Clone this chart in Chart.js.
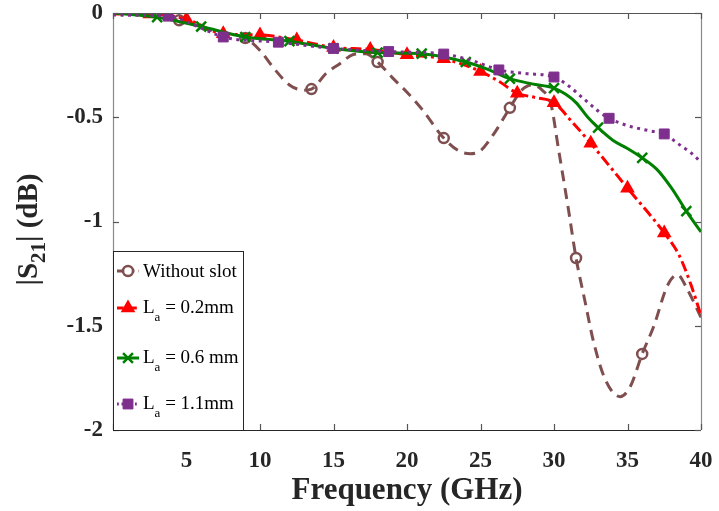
<!DOCTYPE html>
<html>
<head>
<meta charset="utf-8">
<script src="https://cdn.jsdelivr.net/npm/chart.js@4.4.1/dist/chart.umd.min.js"></script>
<style>
  html, body { margin: 0; padding: 0; background: #fff; }
  #wrap { width: 719px; height: 511px; position: relative; }
</style>
</head>
<body>
<div id="wrap"><canvas id="s21Chart" width="719" height="511"></canvas></div>
<script>
// values (GHz, dB)
const freqNoSlot = [0, 2, 4.5, 7, 9, 10, 11, 12, 13, 13.5, 14.5, 15.5, 16.3, 17.2, 18, 19, 20, 21, 22.5, 23.5, 24.3, 25, 26, 27, 27.8, 28.5, 29.2, 29.8, 30.3, 31, 31.5, 32.1, 32.7, 33.5, 34.5, 35.2, 36, 36.8, 37.7, 38.4, 39.1, 40];
const s21NoSlot = [0, -0.005, -0.035, -0.09, -0.12, -0.18, -0.27, -0.345, -0.37, -0.365, -0.29, -0.24, -0.2, -0.195, -0.235, -0.31, -0.38, -0.46, -0.6, -0.66, -0.675, -0.66, -0.57, -0.455, -0.37, -0.345, -0.37, -0.44, -0.65, -0.95, -1.175, -1.38, -1.58, -1.76, -1.84, -1.79, -1.635, -1.5, -1.31, -1.255, -1.33, -1.46];
const markNoSlot = [4.5, 9, 13.5, 18, 22.5, 27, 31.5, 36];

const freqLa02 = [0, 2.5, 5, 7.5, 10, 12.5, 15, 17.5, 20, 22.5, 25, 26.3, 27.5, 28.7, 30, 31.2, 32.5, 35, 37.5, 38.5, 39.3, 40];
const s21La02 = [-0.005, -0.005, -0.03, -0.1, -0.105, -0.13, -0.165, -0.175, -0.2, -0.22, -0.28, -0.33, -0.385, -0.405, -0.43, -0.52, -0.625, -0.84, -1.055, -1.16, -1.3, -1.45];
const markLa02 = [2.5, 5, 7.5, 10, 12.5, 15, 17.5, 20, 22.5, 25, 27.5, 30, 32.5, 35, 37.5];

const freqLa06 = [0, 3, 6, 9, 12, 15, 18, 21, 24, 25.5, 27, 28.5, 30, 30.8, 31.5, 32.3, 33, 34, 35, 36, 37, 38, 39, 40];
const s21La06 = [0, -0.02, -0.065, -0.115, -0.135, -0.17, -0.19, -0.195, -0.235, -0.27, -0.315, -0.34, -0.36, -0.39, -0.43, -0.5, -0.55, -0.61, -0.65, -0.695, -0.75, -0.84, -0.95, -1.05];
const markLa06 = [3, 6, 9, 12, 15, 18, 21, 24, 27, 30, 33, 36, 39];

const freqLa11 = [0, 3.75, 5.6, 7.5, 11.25, 15, 18.75, 22.5, 24.5, 26.25, 28, 30, 31, 32, 33, 33.75, 35, 36.5, 37.5, 38.5, 39.3, 40];
const s21La11 = [-0.01, -0.015, -0.06, -0.115, -0.14, -0.17, -0.185, -0.197, -0.23, -0.273, -0.29, -0.307, -0.35, -0.41, -0.47, -0.505, -0.54, -0.565, -0.58, -0.63, -0.67, -0.715];
const markLa11 = [3.75, 7.5, 11.25, 15, 18.75, 22.5, 26.25, 30, 33.75, 37.5];

const xTicks = [0, 5, 10, 15, 20, 25, 30, 35, 40];
const yTicks = [0, -0.5, -1, -1.5, -2];
const seriesLabels = ['Without slot', 'L_a = 0.2mm', 'L_a = 0.6 mm', 'L_a = 1.1mm'];

const SERIF = '"Liberation Serif", "Times New Roman", serif';
const legendRows = [271, 308, 358, 404];

function pts(fs, vs) { return fs.map((f, i) => ({ x: f, y: vs[i] })); }
function radii(fs, marks, r) { return fs.map(f => marks.includes(f) ? r : 0); }

const datasets = [
  {
    label: seriesLabels[0], data: pts(freqNoSlot, s21NoSlot), order: 4,
    borderColor: '#7f4f4f', borderWidth: 3, borderDash: [11, 7],
    pointStyle: 'circle', pointRadius: radii(freqNoSlot, markNoSlot, 5),
    pointBorderWidth: 2.5, pointBackgroundColor: 'rgba(255,255,255,0)', pointBorderColor: '#7f4f4f',
    legendRadius: 5
  },
  {
    label: seriesLabels[1], data: pts(freqLa02, s21La02), order: 3,
    borderColor: '#ff0000', borderWidth: 3, borderDash: [11, 4, 3, 4],
    pointStyle: 'triangle', pointRadius: radii(freqLa02, markLa02, 6.5),
    pointBorderWidth: 2, pointBackgroundColor: '#ff0000', pointBorderColor: '#ff0000',
    legendRadius: 6.5
  },
  {
    label: seriesLabels[2], data: pts(freqLa06, s21La06), order: 2,
    borderColor: '#008000', borderWidth: 3, borderDash: [],
    pointStyle: 'crossRot', pointRadius: radii(freqLa06, markLa06, 7),
    pointBorderWidth: 2.5, pointBackgroundColor: '#008000', pointBorderColor: '#008000',
    legendRadius: 7
  },
  {
    label: seriesLabels[3], data: pts(freqLa11, s21La11), order: 1,
    borderColor: '#7e2f8e', borderWidth: 3, borderDash: [3, 4.5],
    pointStyle: 'rect', pointRadius: radii(freqLa11, markLa11, 7),
    pointBorderWidth: 1, pointBackgroundColor: '#7e2f8e', pointBorderColor: '#7e2f8e',
    legendRadius: 7
  }
];

// box, inward ticks, axis titles and the legend (MATLAB look)
const framePlugin = {
  id: 'frame',
  afterDraw(chart) {
    const { ctx, chartArea: a, scales } = chart;
    const sx = scales.x, sy = scales.y;
    ctx.save();
    ctx.lineWidth = 1.2;
    ctx.setLineDash([]);
    // axes
    ctx.strokeStyle = '#262626';
    ctx.beginPath(); ctx.moveTo(a.left, a.bottom + 0.5); ctx.lineTo(a.right, a.bottom + 0.5); ctx.stroke();
    ctx.strokeStyle = '#555';
    ctx.beginPath(); ctx.moveTo(a.left, a.top + 0.5); ctx.lineTo(a.right, a.top + 0.5); ctx.stroke();
    ctx.strokeStyle = '#8a8a8a';
    ctx.beginPath(); ctx.moveTo(a.left + 0.5, a.top); ctx.lineTo(a.left + 0.5, a.bottom); ctx.stroke();
    ctx.beginPath(); ctx.moveTo(a.right + 0.5, a.top); ctx.lineTo(a.right + 0.5, a.bottom); ctx.stroke();
    // ticks
    ctx.strokeStyle = '#555';
    xTicks.forEach(v => {
      const px = Math.round(sx.getPixelForValue(v)) + 0.5;
      ctx.beginPath(); ctx.moveTo(px, a.bottom); ctx.lineTo(px, a.bottom - 6); ctx.stroke();
      ctx.beginPath(); ctx.moveTo(px, a.top); ctx.lineTo(px, a.top + 6); ctx.stroke();
    });
    yTicks.forEach(v => {
      const py = Math.round(sy.getPixelForValue(v)) + 0.5;
      ctx.beginPath(); ctx.moveTo(a.left, py); ctx.lineTo(a.left + 6, py); ctx.stroke();
      ctx.beginPath(); ctx.moveTo(a.right, py); ctx.lineTo(a.right - 6, py); ctx.stroke();
    });

    // x title
    ctx.fillStyle = '#262626';
    ctx.font = 'bold 31px ' + SERIF;
    ctx.textAlign = 'center';
    ctx.textBaseline = 'alphabetic';
    ctx.fillText('Frequency (GHz)', (a.left + a.right) / 2, 499);

    // y title with subscript
    ctx.save();
    ctx.translate(37, (a.top + a.bottom) / 2 + 8);
    ctx.rotate(-Math.PI / 2);
    const big = 'bold 29px ' + SERIF, small = 'bold 21px ' + SERIF;
    const parts = [['|S', big, 0], ['21', small, 8], ['| (dB)', big, 0]];
    let total = 0;
    parts.forEach(p => { ctx.font = p[1]; total += ctx.measureText(p[0]).width; });
    let cx = -total / 2;
    ctx.textAlign = 'left';
    parts.forEach(p => { ctx.font = p[1]; ctx.fillText(p[0], cx, p[2]); cx += ctx.measureText(p[0]).width; });
    ctx.restore();

    // legend
    const lx0 = a.left, ly0 = 251, lx1 = 243, ly1 = a.bottom;
    ctx.fillStyle = '#fff';
    ctx.fillRect(lx0, ly0, lx1 - lx0, ly1 - ly0);
    ctx.strokeStyle = '#262626';
    ctx.lineWidth = 1;
    ctx.strokeRect(lx0 + 0.5, ly0 + 0.5, lx1 - lx0, ly1 - ly0);
    chart.data.datasets.forEach((ds, i) => {
      const y = legendRows[i];
      ctx.save();
      ctx.strokeStyle = ds.borderColor;
      ctx.lineWidth = ds.borderWidth;
      ctx.setLineDash(ds.borderDash.length ? ds.borderDash.map(d => d * 0.6) : []);
      ctx.beginPath(); ctx.moveTo(117, y); ctx.lineTo(139, y); ctx.stroke();
      ctx.setLineDash([]);
      ctx.fillStyle = ds.pointBackgroundColor;
      ctx.strokeStyle = ds.pointBorderColor;
      ctx.lineWidth = ds.pointBorderWidth;
      if (ds.pointStyle === 'circle') { ctx.fillStyle = '#fff'; }
      Chart.helpers.drawPoint(ctx, { pointStyle: ds.pointStyle, radius: ds.legendRadius, borderWidth: ds.pointBorderWidth, rotation: 0 }, 128, y);
      ctx.restore();
      // label, "_a" becomes a subscript
      ctx.fillStyle = '#000';
      ctx.textAlign = 'left';
      const lab = ds.label;
      const k = lab.indexOf('_');
      let tx = 143;
      if (k < 0) {
        ctx.font = '19px ' + SERIF;
        ctx.fillText(lab, tx, y + 6);
      } else {
        ctx.font = '19px ' + SERIF;
        const head = lab.slice(0, k);
        ctx.fillText(head, tx, y + 5); tx += ctx.measureText(head).width;
        ctx.font = '13px ' + SERIF;
        const sub = lab.charAt(k + 1);
        ctx.fillText(sub, tx, y + 13); tx += ctx.measureText(sub).width;
        ctx.font = '19px ' + SERIF;
        ctx.fillText(lab.slice(k + 2), tx, y + 5);
      }
    });
    ctx.restore();
  }
};

new Chart(document.getElementById('s21Chart'), {
  type: 'line',
  data: { datasets: datasets },
  options: {
    responsive: false,
    animation: false,
    layout: { padding: { top: 13, right: 18, left: 0, bottom: 0 } },
    elements: { line: { cubicInterpolationMode: 'monotone', fill: false } },
    plugins: { legend: { display: false }, tooltip: { enabled: false } },
    scales: {
      x: {
        type: 'linear', min: 0, max: 40,
        afterFit: s => { s.height = 81; s.paddingLeft = 0; s.paddingRight = 0; },
        afterBuildTicks: s => { s.ticks = xTicks.map(v => ({ value: v })); },
        grid: { display: false },
        border: { display: false },
        ticks: {
          padding: 9, color: '#262626', maxRotation: 0,
          font: { family: SERIF, size: 23, weight: 'bold' },
          callback: v => (v === 0 ? '' : String(v))
        }
      },
      y: {
        type: 'linear', min: -2, max: 0,
        afterFit: s => { s.width = 113; s.paddingTop = 0; s.paddingBottom = 0; },
        afterBuildTicks: s => { s.ticks = yTicks.map(v => ({ value: v })); },
        grid: { display: false },
        border: { display: false },
        ticks: {
          padding: 2, color: '#262626',
          font: { family: SERIF, size: 23, weight: 'bold' },
          callback: v => String(v)
        }
      }
    }
  },
  plugins: [framePlugin]
});
</script>
</body>
</html>
